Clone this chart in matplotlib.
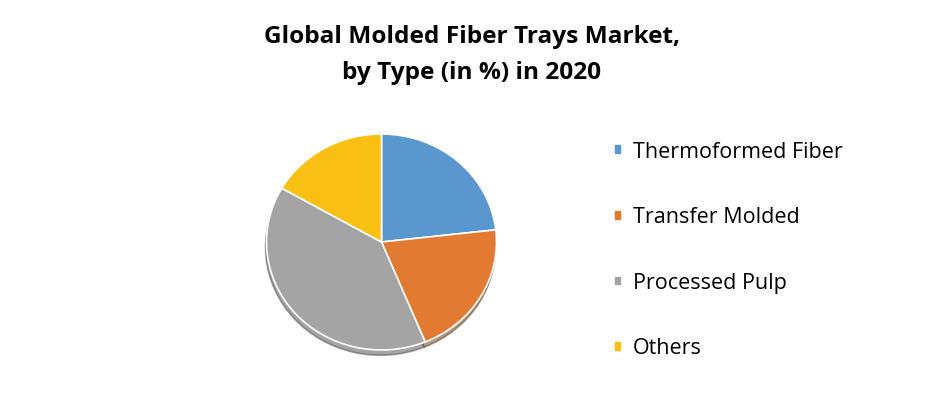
import matplotlib.pyplot as plt

# data
labels = ['Thermoformed Fiber', 'Transfer Molded', 'Processed Pulp', 'Others']
shares = [23.2, 20.6, 39.5, 16.7]
colors = ['#5A97CF', '#E27A31', '#A4A4A4', '#F9BF12']

title = 'Global Molded Fiber Trays Market,\nby Type (in %) in 2020'

W, H = 940, 398
fig = plt.figure(figsize=(W / 100, H / 100), dpi=100)

# pie looks slightly squashed (3D tilt), so axes are not equal-aspect
cx, cy = 381.5, 242
rx, ry = 115, 108
pad = 1.1
ax = fig.add_axes([(cx - rx * pad) / W, 1 - (cy + ry * pad) / H,
                   2 * rx * pad / W, 2 * ry * pad / H])

wedges, _ = ax.pie(shares, colors=colors, startangle=90, counterclock=False,
                   wedgeprops=dict(edgecolor='white', linewidth=1.2),
                   shadow=dict(ox=-0.006, oy=-0.035, shade=0.55))
ax.set_aspect('auto')
ax.set_xlim(-pad, pad)
ax.set_ylim(-pad, pad)
ax.axis('off')

fig.text(472 / W, 1 - 55 / H, title, ha='center', va='center',
         fontsize=17.6, fontweight='bold', family='Open Sans',
         linespacing=1.7)

fig.legend(wedges, labels, loc='upper left',
           bbox_to_anchor=(605 / W, 1 - 133 / H),
           frameon=False, prop=dict(family='Open Sans', size=15.5),
           handlelength=0.4, handleheight=0.4, handletextpad=0.5,
           labelspacing=2.07, borderaxespad=0)

fig.savefig('out.png', dpi=100)
